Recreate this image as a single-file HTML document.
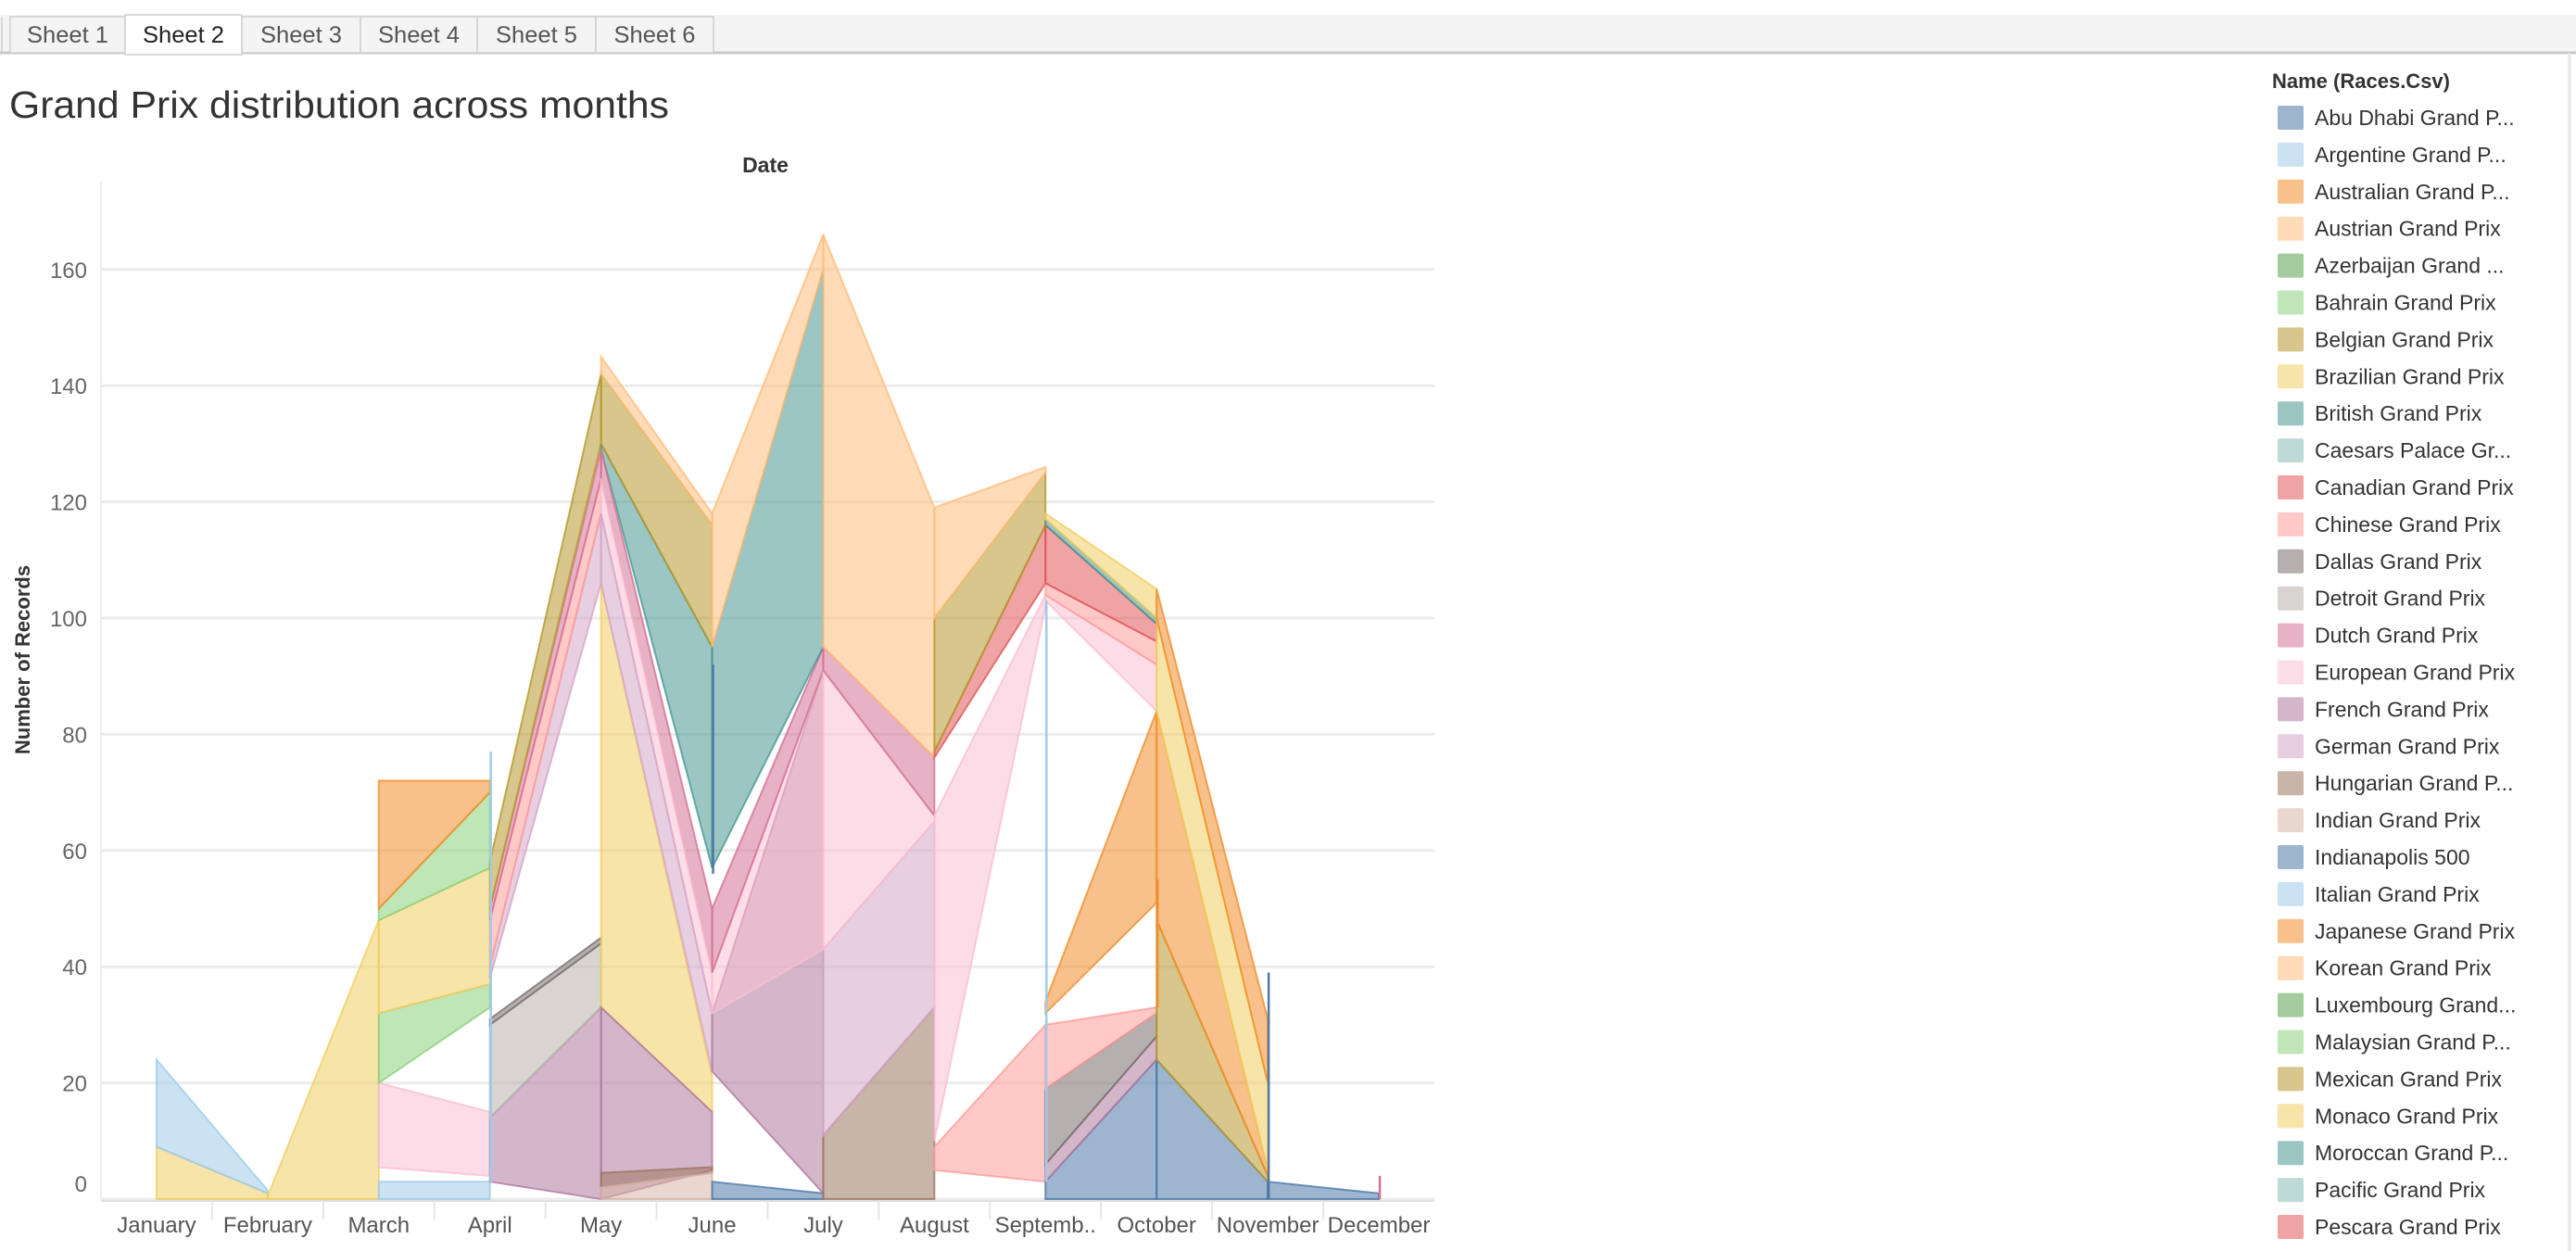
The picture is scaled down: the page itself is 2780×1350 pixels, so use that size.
<!DOCTYPE html>
<html><head><meta charset="utf-8"><title>Grand Prix distribution across months</title>
<style>
html,body{margin:0;padding:0;background:#fff;}
svg{display:block;font-family:"Liberation Sans",sans-serif;}
</style></head>
<body>
<svg id="root" width="2780" height="1350" viewBox="0 0 2780 1350" xmlns="http://www.w3.org/2000/svg">
  <g>
    <rect x="0" y="16" width="2780" height="41" fill="#f4f4f4"/>
    <line x1="0" y1="57" x2="2780" y2="57" stroke="#c8c8c8" stroke-width="3"/>
    <g id="tabs"></g>
  </g>
  <text x="10" y="127" font-size="41" fill="#333" textLength="712" lengthAdjust="spacingAndGlyphs">Grand Prix distribution across months</text>
  <text x="826" y="186" font-size="23" font-weight="bold" fill="#333" text-anchor="middle">Date</text>
  <text transform="translate(32,712) rotate(-90)" font-size="22" font-weight="bold" fill="#333" text-anchor="middle">Number of Records</text>
  <g id="grid"></g>
  <g id="marks"></g>
  <g id="axes"></g>
  <g id="legend"></g>
  <line x1="2773" y1="57" x2="2773" y2="1350" stroke="#e6e6e6" stroke-width="3"/>
</svg>
<script>
const months = ["January","February","March","April","May","June","July","August","Septemb..","October","November","December"];
const yTicks = [0,20,40,60,80,100,120,140,160];
const legendNames = ["Abu Dhabi Grand P...","Argentine Grand P...","Australian Grand P...","Austrian Grand Prix","Azerbaijan Grand ...","Bahrain Grand Prix","Belgian Grand Prix","Brazilian Grand Prix","British Grand Prix","Caesars Palace Gr...","Canadian Grand Prix","Chinese Grand Prix","Dallas Grand Prix","Detroit Grand Prix","Dutch Grand Prix","European Grand Prix","French Grand Prix","German Grand Prix","Hungarian Grand P...","Indian Grand Prix","Indianapolis 500","Italian Grand Prix","Japanese Grand Prix","Korean Grand Prix","Luxembourg Grand...","Malaysian Grand P...","Mexican Grand Prix","Monaco Grand Prix","Moroccan Grand P...","Pacific Grand Prix","Pescara Grand Prix"];
const palette = ["#4e79a7","#a0cbe8","#f28e2b","#ffbe7d","#59a14f","#8cd17d","#b6992d","#f1ce63","#499894","#86bcb6","#e15759","#ff9d9a","#79706e","#bab0ac","#d37295","#fabfd2","#b07aa1","#d4a6c8","#9d7660","#d7b5a6"];
const tabNames = ["Sheet 1","Sheet 2","Sheet 3","Sheet 4","Sheet 5","Sheet 6"];

// area bands: series index (legend), start month, low/high values per month
const bandSeries = [7,1,7, 21,15,25,7,5,2, 16,13,12, 17,11,14,6, 27,16,18,19,8,6,3,14,15,17, 0,16,15,14,8,3, 18,17,15,14,3, 11,15,10,6,3, 0,16,12,11,22,15,11,10,8,7, 0,26,22,7,2, 0];
const bandStart  = [0,0,1, 2,2,2,2,2,2, 3,3,3, 3,3,3,3, 4,4,4,4,4,4,4,4,4,4, 5,5,5,5,5,5, 6,6,6,6,6, 7,7,7,7,7, 8,8,8,8,8,8,8,8,8,8, 9,9,9,9,9, 10];
const bandLow = [
 [0,0],[9,1],[0,0],
 [0,0],[5.5,4],[20,33],[32,37],[48,57],[50,70],
 [3,0],[14,33],[30,44],
 [38,106],[40,118],[48,124],[50,130],
 [33,15],[0,5],[2,4.5],[0,0],[129,57],[130,95],[142,116],[124,39],[118,32],[106,22],
 [0,0],[22,1],[32,43],[39,91],[57,95],[95,160],
 [0,0],[11,33],[43,65],[91,66],[95,76],
 [5,3],[10,102],[76,106],[77,116],[100,125],
 [0,0],[3,24],[6,28],[19,32],[32,51],[103,84],[104,92],[106,96],[116,99],[117,100],
 [0,0],[24,3],[48,4],[84,5],[100,20],
 [0,0]
];
const bandHigh = [
 [9,1],[24,1.5],[0.5,48],
 [3,3],[20,15],[32,37],[48,57],[50,70],[72,72],
 [14,33],[30,44],[31,45],
 [40,118],[48,124],[50,129],[58,142],
 [106,21],[33,15],[4.5,5.5],[2,4.5],[130,95],[142,116],[145,118],[129,50],[124,39],[118,32],
 [3,1],[32,91],[39,91],[50,95],[95,160],[118,166],
 [11,33],[43,65],[91,66],[95,76],[166,119],
 [9,30],[66,104],[77,116],[100,125],[119,126],
 [3,24],[6,28],[19,32],[30,33],[34,84],[104,92],[106,96],[116,99],[117,100],[118,105],
 [24,3],[48,4],[84,5],[100,20],[105,31],
 [3,1]
];
// vertical spike lines: month, low, high, series
const spikeMonth = [3,5,8,9,10,11];
const spikeLow   = [3,56,3,33,0,0];
const spikeHigh  = [77,92,103,55,39,4];
const spikeSeries= [1,20,1,2,0,14];

const NS="http://www.w3.org/2000/svg";
const X0=109, X1=1548, BASE=1294, UNIT=6.27;
const colW=(X1-X0)/12;
function x(m){return X0+colW*(m+0.5);}
function y(v){return BASE-v*UNIT;}
function mk(tag,attrs,parent){const e=document.createElementNS(NS,tag);for(const k in attrs)e.setAttribute(k,attrs[k]);parent.appendChild(e);return e;}

// tabs
const tabs=document.getElementById('tabs');
const tabEdges=[11,135,261,389,515,643,770];
tabNames.forEach((t,i)=>{
  const g=mk('g',{},tabs);
  
  
  const active=i===1;
  mk('rect',{x:tabEdges[i],y:active?16:18,width:tabEdges[i+1]-tabEdges[i],height:active?43:39,fill:active?'#fff':'#f4f4f4',stroke:'#cfcfcf','stroke-width':1.5},g);
  const tx=mk('text',{x:(tabEdges[i]+tabEdges[i+1])/2,y:46,'font-size':25,fill:active?'#222':'#555','text-anchor':'middle',textLength:88,lengthAdjust:'spacingAndGlyphs'},g);
  tx.textContent=t;
});
mk('line',{x1:2,y1:18,x2:2,y2:57,stroke:'#cfcfcf','stroke-width':1.5},tabs);

// grid
const grid=document.getElementById('grid');
mk('line',{x1:X0,y1:196,x2:X0,y2:BASE,stroke:'#eee','stroke-width':2},grid);
yTicks.forEach(v=>{
  const l=mk('line',{x1:X0,y1:y(v),x2:X1,y2:y(v),stroke:'#ececec','stroke-width':3},grid);
  
  
});

// marks
const marks=document.getElementById('marks');
bandSeries.forEach((s,b)=>{
  const lo=bandLow[b], hi=bandHigh[b], st=bandStart[b];
  const col=palette[s%20];
  let top=[],bot=[];
  for(let k=0;k<hi.length;k++){top.push(x(st+k)+','+y(hi[k]));}
  for(let k=lo.length-1;k>=0;k--){bot.push(x(st+k)+','+y(lo[k]));}
  const p=mk('polygon',{points:top.concat(bot).join(' '),fill:col,'fill-opacity':0.55,stroke:col,'stroke-opacity':0.8,'stroke-width':2},marks);
  
  
});
spikeMonth.forEach((m,i)=>{
  const l=mk('line',{x1:x(m)+1,y1:y(spikeLow[i]),x2:x(m)+1,y2:y(spikeHigh[i]),stroke:palette[spikeSeries[i]%20],'stroke-width':2.5},marks);
  
  
});

// axes
const axes=document.getElementById('axes');
mk('line',{x1:X0,y1:BASE+2,x2:X1,y2:BASE+2,stroke:'#e0e0e0','stroke-width':2},axes);
yTicks.forEach(v=>{
  const t=mk('text',{x:94,y:(v===0?y(v)-8:y(v)+9),'font-size':24,fill:'#666','text-anchor':'end'},axes);
  t.textContent=v;
  
  
});
months.forEach((m,i)=>{
  if(i>0){mk('line',{x1:X0+colW*i,y1:BASE+2,x2:X0+colW*i,y2:BASE+22,stroke:'#e6e6e6','stroke-width':2},axes);}
  const t=mk('text',{x:x(i),y:1330,'font-size':24,fill:'#555','text-anchor':'middle'},axes);
  t.textContent=m;
  
  
});

// legend
const lg=document.getElementById('legend');
const lt=mk('text',{x:2452,y:95,'font-size':22,'font-weight':'bold',fill:'#333'},lg);
lt.textContent='Name (Races.Csv)';


legendNames.forEach((n,i)=>{
  const g=mk('g',{},lg);
  
  
  const top=114+39.9*i;
  mk('rect',{x:2458,y:top,width:28,height:26,rx:2,fill:palette[i%20],'fill-opacity':0.55},g);
  const t=mk('text',{x:2498,y:top+21,'font-size':23,fill:'#333'},g);
  t.textContent=n;
});
</script>
</body></html>
